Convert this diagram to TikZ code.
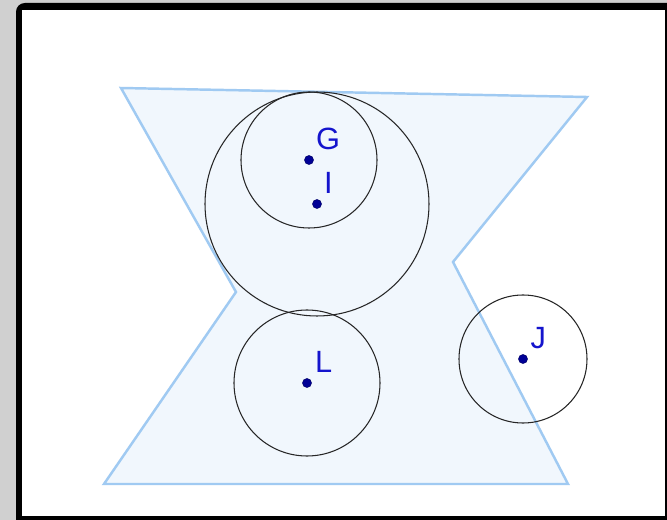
\documentclass[tikz,border=0pt]{standalone}
\usepackage{fontspec}
\setmainfont{Liberation Sans}
\usetikzlibrary{positioning}
\usepackage{xcolor}

\definecolor{marble}{RGB}{208,208,208}
\definecolor{edgeblue}{RGB}{160,202,242}
\definecolor{fillblue}{RGB}{241,247,253}
\definecolor{ptblue}{RGB}{0,0,150}
\definecolor{lblblue}{RGB}{20,20,205}

\begin{document}
\begin{tikzpicture}[x=0.02cm, y=-0.02cm,
                region/.style={draw=edgeblue, fill=fillblue, line width=1.4pt, line join=miter},
                ring/.style={draw=black!85, line width=0.6pt},
                dot/.style={circle, fill=ptblue, draw=ptblue!70!black, line width=0.3pt, inner sep=0pt, minimum size=0.18cm},
                lbl/.style={text=lblblue, inner sep=0pt, font=\fontsize{17.5}{20}\selectfont}]

            \useasboundingbox (0,0) rectangle (667,520);

            % Background frame
            \fill[marble] (0,0) rectangle (667,520);
            \fill[black, rounded corners=5] (16,3) rectangle (690,540);
            \fill[white] (22,10) rectangle (665,516);

            % Region
            \filldraw[region] (121,88) -- (587,97) -- (453,262) -- (568,484) -- (104,484) -- (236,292) -- cycle;

            % Centres
            \node[dot] (G) at (309,160) {};
            \node[dot] (I) at (317,204) {};
            \node[dot] (L) at (307,383) {};
            \node[dot] (J) at (523,359) {};

            \node[lbl, above right=0.13cm and 0.07cm of G] (labG) {G};
            \node[lbl, above right=0.13cm and 0.07cm of I] (labI) {I};
            \node[lbl, above right=0.13cm and 0.09cm of L] (labL) {L};
            \node[lbl, above right=0.13cm and 0.08cm of J] (labJ) {J};

            % Circles
            \draw[ring] (I) circle[radius=112];
            \draw[ring] (G) circle[radius=68];
            \draw[ring] (L) circle[radius=73];
            \draw[ring] (J) circle[radius=64];

        \end{tikzpicture}
\end{document}
